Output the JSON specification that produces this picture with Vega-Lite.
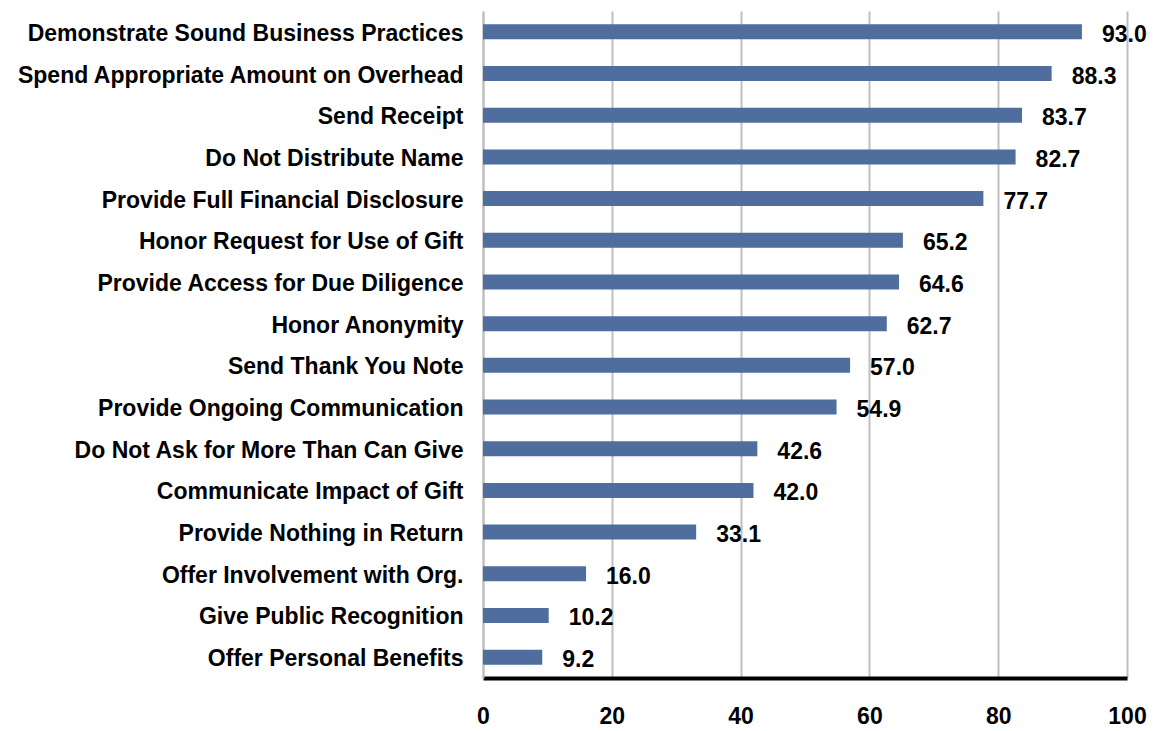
{
  "$schema": "https://vega.github.io/schema/vega-lite/v6.json",
  "width": 644,
  "height": 667,
  "autosize": {"type": "none"},
  "padding": {"left": 483, "top": 11, "right": 31, "bottom": 53},
  "background": "white",
  "config": {
    "view": {"stroke": null},
    "font": "Liberation Sans"
  },
  "data": {
    "values": [
      {"item": "Demonstrate Sound Business Practices", "value": 93.0},
      {"item": "Spend Appropriate Amount on Overhead", "value": 88.3},
      {"item": "Send Receipt", "value": 83.7},
      {"item": "Do Not Distribute Name", "value": 82.7},
      {"item": "Provide Full Financial Disclosure", "value": 77.7},
      {"item": "Honor Request for Use of Gift", "value": 65.2},
      {"item": "Provide Access for Due Diligence", "value": 64.6},
      {"item": "Honor Anonymity", "value": 62.7},
      {"item": "Send Thank You Note", "value": 57.0},
      {"item": "Provide Ongoing Communication", "value": 54.9},
      {"item": "Do Not Ask for More Than Can Give", "value": 42.6},
      {"item": "Communicate Impact of Gift", "value": 42.0},
      {"item": "Provide Nothing in Return", "value": 33.1},
      {"item": "Offer Involvement with Org.", "value": 16.0},
      {"item": "Give Public Recognition", "value": 10.2},
      {"item": "Offer Personal Benefits", "value": 9.2}
    ]
  },
  "encoding": {
    "y": {
      "field": "item",
      "type": "nominal",
      "sort": null,
      "scale": {"paddingInner": 0.64, "paddingOuter": 0.32},
      "axis": {
        "title": null,
        "ticks": false,
        "labelPadding": 20,
        "labelOffset": 2,
        "labelFont": "Liberation Sans",
        "labelFontSize": 23,
        "labelFontWeight": "bold",
        "labelColor": "black",
        "labelLimit": 480,
        "domainColor": "#BFBFBF",
        "domainWidth": 2
      }
    },
    "x": {
      "field": "value",
      "type": "quantitative",
      "scale": {"domain": [0, 100], "nice": false},
      "axis": {
        "title": null,
        "values": [0, 20, 40, 60, 80, 100],
        "ticks": false,
        "labelFlush": false,
        "labelPadding": 27,
        "labelFont": "Liberation Sans",
        "labelFontSize": 23,
        "labelFontWeight": "bold",
        "labelColor": "black",
        "domainColor": "black",
        "domainWidth": 4,
        "grid": true,
        "gridColor": "#BFBFBF",
        "gridWidth": 2
      }
    }
  },
  "layer": [
    {"mark": {"type": "bar", "color": "#4F6E9E"}},
    {
      "mark": {
        "type": "text",
        "align": "left",
        "baseline": "middle",
        "dx": 20,
        "dy": 3,
        "font": "Liberation Sans",
        "fontSize": 23,
        "fontWeight": "bold",
        "color": "black"
      },
      "encoding": {
        "text": {"field": "value", "type": "quantitative", "format": ".1f"}
      }
    }
  ]
}
